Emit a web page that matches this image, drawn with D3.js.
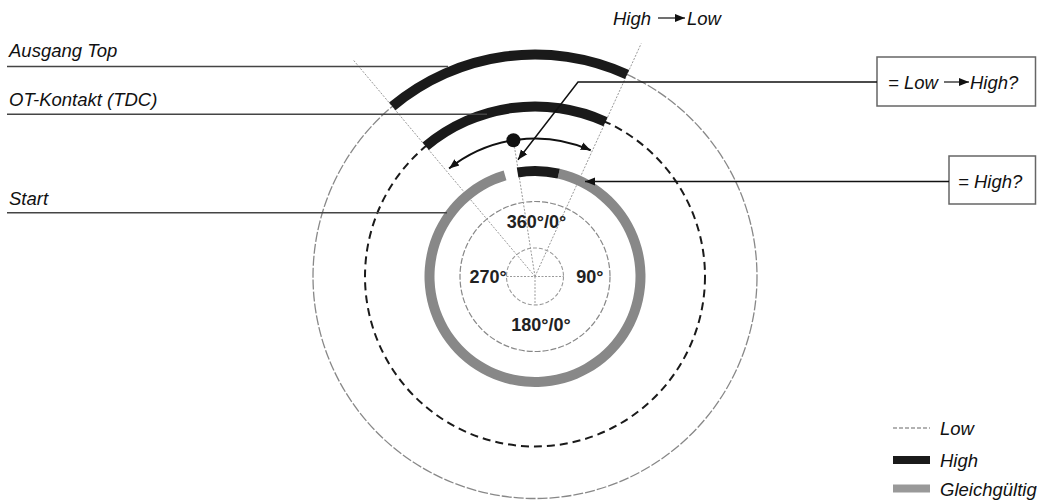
<!DOCTYPE html>
<html><head><meta charset="utf-8">
<script src="https://cdn.jsdelivr.net/npm/d3@7"></script>
<style>
html,body{margin:0;padding:0;background:#fff;}
svg text{font-family:"Liberation Sans",Arial,sans-serif;}
</style></head>
<body><svg id="c" width="1037" height="500"></svg>
<script>
// ---------- data ----------
const ringNames = ["Ausgang Top", "OT-Kontakt (TDC)", "Start"];
const ringLowKind = ["lowGray", "lowBlack", "none"];
const highStart = [-40, -40, -9.5];     // degrees, clockwise from top
const highEnd   = [24.5, 24.5, 13];
const dontCareStart = [null, null, 13];
const dontCareEnd   = [null, null, 343.5];
const radialAngles = [-40, -9, 24.5];
const swingStart = -38.5, swingEnd = 23.8, swingDot = -9;
const degreeLabels = ["360°/0°", "90°", "180°/0°", "270°"];
const degreeAngles = [0, 90, 180, 270];
const legendLabels = ["Low", "High", "Gleichgültig"];
const topLabel = ["High", "Low"];
const box1Label = ["= Low", "High?"];
const box2Label = "= High?";

// ---------- layout ----------
const svg = d3.select("#c");
const cx = 535, cy = 276.5;
const ang = d3.scaleLinear().domain([0, 360]).range([0, 2 * Math.PI]);
const ringR = d3.scaleOrdinal().domain(ringNames).range([222, 170, 105.5]);
const bandW = 10;
const fs = 18.5;
const polar = (deg, r) => [cx + r * Math.sin(ang(deg)), cy - r * Math.cos(ang(deg))];

const defs = svg.append("defs");
defs.append("marker").attr("id", "ah").attr("viewBox", "0 0 10 10")
  .attr("refX", 10).attr("refY", 5).attr("markerWidth", 10).attr("markerHeight", 10)
  .attr("markerUnits", "userSpaceOnUse").attr("orient", "auto-start-reverse")
  .append("path").attr("d", "M0,1 L10,5 L0,9 Z").attr("fill", "#111");

const g = svg.append("g");
const gray = "#888", black = "#1a1a1a";

// inner reference circles
g.append("circle").attr("cx", cx).attr("cy", cy).attr("r", 28.5)
  .attr("fill", "none").attr("stroke", "#999").attr("stroke-width", 1.1).attr("stroke-dasharray", "4,2");
g.append("circle").attr("cx", cx).attr("cy", cy).attr("r", 75)
  .attr("fill", "none").attr("stroke", "#888").attr("stroke-width", 1.2).attr("stroke-dasharray", "6,2");
g.append("line").attr("x1", cx - 28.5).attr("x2", cx + 28.5).attr("y1", cy).attr("y2", cy)
  .attr("stroke", "#999").attr("stroke-width", 1).attr("stroke-dasharray", "2,1.5");
g.append("line").attr("x1", cx).attr("x2", cx).attr("y1", cy).attr("y2", cy + 28.5)
  .attr("stroke", "#999").attr("stroke-width", 1).attr("stroke-dasharray", "2,1.5");

// radial dotted lines
const radialLen = [282, 138, 256];
radialAngles.forEach((a, i) => {
  const p = polar(a, radialLen[i]);
  g.append("line").attr("x1", cx).attr("y1", cy).attr("x2", p[0]).attr("y2", p[1])
    .attr("stroke", "#999").attr("stroke-width", 1).attr("stroke-dasharray", "2,1.5");
});

// low circles
ringNames.forEach((n, i) => {
  const r = ringR(n);
  if (ringLowKind[i] === "lowGray") {
    g.append("circle").attr("cx", cx).attr("cy", cy).attr("r", r).attr("fill", "none")
      .attr("stroke", "#888").attr("stroke-width", 1.3).attr("stroke-dasharray", "10,2");
  } else if (ringLowKind[i] === "lowBlack") {
    g.append("circle").attr("cx", cx).attr("cy", cy).attr("r", r).attr("fill", "none")
      .attr("stroke", black).attr("stroke-width", 2).attr("stroke-dasharray", "8,5");
  }
});

// bands
const arc = d3.arc();
ringNames.forEach((n, i) => {
  const r = ringR(n);
  if (dontCareStart[i] !== null) {
    g.append("path").attr("transform", `translate(${cx},${cy})`)
      .attr("d", arc({innerRadius: r - bandW / 2, outerRadius: r + bandW / 2,
        startAngle: ang(dontCareStart[i]), endAngle: ang(dontCareEnd[i])}))
      .attr("fill", gray);
  }
  g.append("path").attr("transform", `translate(${cx},${cy})`)
    .attr("d", arc({innerRadius: r - bandW / 2, outerRadius: r + bandW / 2,
      startAngle: ang(highStart[i]), endAngle: ang(highEnd[i])}))
    .attr("fill", black);
});

// swing arrow
const swingR = 138;
const sp = d3.path();
sp.arc(cx, cy, swingR, ang(swingStart) - Math.PI / 2, ang(swingEnd) - Math.PI / 2, false);
g.append("path").attr("d", sp.toString()).attr("fill", "none").attr("stroke", "#111")
  .attr("stroke-width", 2).attr("marker-start", "url(#ah)").attr("marker-end", "url(#ah)");
const dp = polar(swingDot, swingR);
g.append("circle").attr("cx", dp[0]).attr("cy", dp[1]).attr("r", 7).attr("fill", "#111");

// degree labels
const labelR = [55, 53.3, 47.5, 48.3];
degreeLabels.forEach((t, i) => {
  const p = polar(degreeAngles[i], labelR[i]);
  g.append("text").attr("x", p[0] + (i === 2 ? 6 : 1.5)).attr("y", p[1] + 6.5)
    .attr("text-anchor", "middle").attr("font-weight", "bold").attr("font-size", 18)
    .attr("fill", "#222").text(t);
});

// left leader labels
const leaderTextY = [57, 105.5, 205];
const leaderLineY = [66.5, 114.3, 212.7];
const leaderEndX = [448, 487, 447];
ringNames.forEach((n, i) => {
  g.append("text").attr("x", 9).attr("y", leaderTextY[i]).attr("font-style", "italic")
    .attr("font-size", fs).attr("fill", "#111").text(n);
  g.append("line").attr("x1", 7).attr("x2", leaderEndX[i]).attr("y1", leaderLineY[i]).attr("y2", leaderLineY[i])
    .attr("stroke", "#444").attr("stroke-width", 1.5);
});

// top label High -> Low
g.append("text").attr("x", 613).attr("y", 25).attr("font-style", "italic").attr("font-size", fs)
  .attr("fill", "#111").text(topLabel[0]);
g.append("line").attr("x1", 658).attr("x2", 685).attr("y1", 18).attr("y2", 18)
  .attr("stroke", "#111").attr("stroke-width", 1.2).attr("marker-end", "url(#ah)");
g.append("text").attr("x", 687).attr("y", 25).attr("font-style", "italic").attr("font-size", fs)
  .attr("fill", "#111").text(topLabel[1]);

// box 1
g.append("rect").attr("x", 877).attr("y", 57).attr("width", 158.5).attr("height", 49)
  .attr("fill", "#fff").attr("stroke", "#666").attr("stroke-width", 1.5);
g.append("text").attr("x", 888).attr("y", 89).attr("font-style", "italic").attr("font-size", fs)
  .attr("fill", "#111").text(box1Label[0]);
g.append("line").attr("x1", 944).attr("x2", 969).attr("y1", 82).attr("y2", 82)
  .attr("stroke", "#111").attr("stroke-width", 1.2).attr("marker-end", "url(#ah)");
g.append("text").attr("x", 970).attr("y", 89).attr("font-style", "italic").attr("font-size", fs)
  .attr("fill", "#111").text(box1Label[1]);
const tip1 = polar(-8.3, 118);
g.append("path").attr("d", `M877,82 L578,82 L${tip1[0]},${tip1[1]}`).attr("fill", "none")
  .attr("stroke", "#111").attr("stroke-width", 1.5).attr("marker-end", "url(#ah)");

// box 2
g.append("rect").attr("x", 949).attr("y", 156).attr("width", 86.5).attr("height", 48)
  .attr("fill", "#fff").attr("stroke", "#666").attr("stroke-width", 1.5);
g.append("text").attr("x", 958).attr("y", 188).attr("font-style", "italic").attr("font-size", fs)
  .attr("fill", "#111").text(box2Label);
g.append("line").attr("x1", 949).attr("x2", 585).attr("y1", 181.5).attr("y2", 181.5)
  .attr("stroke", "#111").attr("stroke-width", 1.5).attr("marker-end", "url(#ah)");

// legend
const legY = [428, 460, 488.5];
legendLabels.forEach((t, i) => {
  if (i === 0) {
    g.append("line").attr("x1", 893).attr("x2", 930).attr("y1", legY[i]).attr("y2", legY[i])
      .attr("stroke", "#999").attr("stroke-width", 1.5).attr("stroke-dasharray", "4,2");
  } else {
    g.append("rect").attr("x", 893).attr("y", legY[i] - 4).attr("width", 37).attr("height", 8)
      .attr("fill", i === 1 ? black : "#999");
  }
  g.append("text").attr("x", 940).attr("y", legY[i] + 7).attr("font-style", "italic")
    .attr("font-size", fs).attr("fill", "#111").text(t);
});
</script></body></html>
